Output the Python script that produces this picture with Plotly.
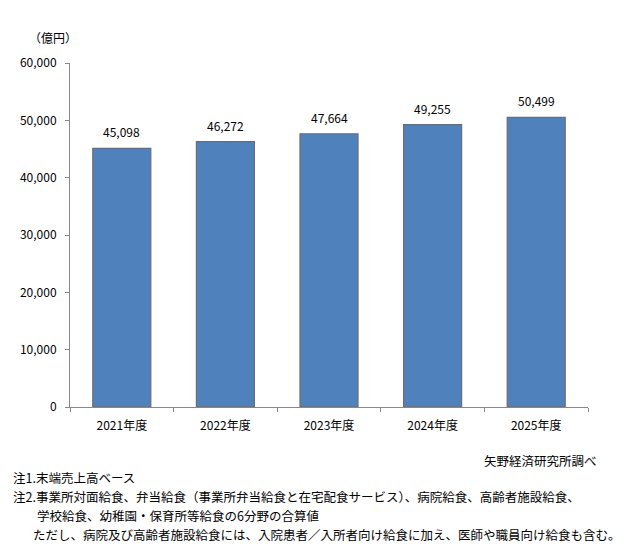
import plotly.graph_objects as go

years = ["2021年度", "2022年度", "2023年度", "2024年度", "2025年度"]
values = [45098, 46272, 47664, 49255, 50499]
y_ticks = [0, 10000, 20000, 30000, 40000, 50000, 60000]

font_jp = "Noto Sans CJK JP"

# plot area in page pixels (page has an 8px body margin)
PX_L, PX_R, PX_T, PX_B = 62, 588, 63, 407

fig = go.Figure()
fig.add_trace(go.Bar(
    x=years, y=values,
    marker=dict(color="#4F81BD", line=dict(color="#6d6d6d", width=1.2)),
    width=0.56,
    hoverinfo="x+y",
))

# value labels above bars
for yr, v in zip(years, values):
    fig.add_annotation(x=yr, y=v, text=f"{v:,}", showarrow=False,
                       yanchor="bottom", yshift=6,
                       font=dict(size=12, color="black"))

fig.update_xaxes(
    showline=True, linecolor="#888888", linewidth=1,
    ticks="outside", tickcolor="#888888", ticklen=4,
    tickson="boundaries", ticklabelstandoff=8,
    tickfont=dict(size=12, color="black"),
)
fig.update_yaxes(
    range=[0, 60000], tickvals=y_ticks,
    ticktext=[f"{v:,}" for v in y_ticks],
    showline=True, linecolor="#888888", linewidth=1,
    ticks="outside", tickcolor="#888888", ticklen=4,
    ticklabelstandoff=6,
    showgrid=False, zeroline=False,
    tickfont=dict(size=12, color="black"),
)

notes = [
    ("（億円）", 18, 37, "left", 12),
    ("矢野経済研究所調べ", 599, 460, "right", 12.5),
    ("注1.末端売上高ベース", 2, 477, "left", 12.5),
    ("注2.事業所対面給食、弁当給食（事業所弁当給食と在宅配食サービス）、病院給食、高齢者施設給食、", 2, 496, "left", 12.5),
    ("学校給食、幼稚園・保育所等給食の6分野の合算値", 26, 515, "left", 12.5),
    ("ただし、病院及び高齢者施設給食には、入院患者／入所者向け給食に加え、医師や職員向け給食も含む。", 22, 534, "left", 12.5),
]
for txt, xpix, ypix, anchor, size in notes:
    fig.add_annotation(
        text=txt, xref="paper", yref="paper",
        x=(xpix - PX_L) / (PX_R - PX_L),
        y=(PX_B - ypix) / (PX_B - PX_T),
        xanchor=anchor, yanchor="middle", showarrow=False,
        font=dict(size=size, color="black"),
    )

fig.update_layout(
    width=625, height=559,
    margin=dict(l=PX_L - 8, r=625 - PX_R + 8, t=PX_T - 8, b=559 - PX_B + 8),
    plot_bgcolor="white", paper_bgcolor="white",
    font=dict(family=font_jp, size=12, color="black"),
    showlegend=False,
)

fig.write_html("out.html")
